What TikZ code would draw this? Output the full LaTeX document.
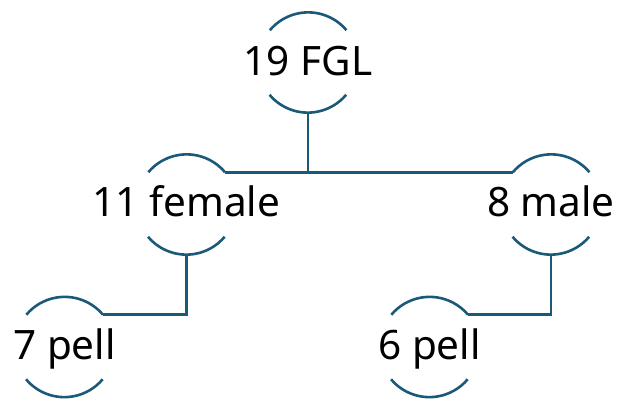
\documentclass[tikz,border=0pt]{standalone}
\usepackage{fontspec}
\setmainfont{Noto Sans}
\definecolor{linkblue}{RGB}{26,89,120}
\begin{document}
\begin{tikzpicture}[x=1pt,y=1pt,
  ring/.style={circle,minimum size=100pt,inner sep=0pt,draw=none},
  lbl/.style={anchor=base,inner sep=0pt,font=\fontsize{40.5}{42}\selectfont,text=black},
  link/.style={draw=linkblue,line width=2.6pt}]
\useasboundingbox (0,0) rectangle (620,400);
% circle centres
\node[ring] (fgl) at (308,337.5) {};
\node[ring] (fem) at (186.5,195.5) {};
\node[ring] (mal) at (551,195.5) {};
\node[ring] (pa) at (64.5,53) {};
\node[ring] (pb) at (429.5,53) {};
% labels
\node[lbl] (tfgl) at (308,325) {19 FGL};
\node[lbl] (tfem) at (186.5,183.5) {11 female};
\node[lbl] (tmal) at (551,183.5) {8 male};
\node[lbl] (tpa) at (64.5,41) {7 pell};
\node[lbl] (tpb) at (429.5,41) {6 pell};
% open rings: only the upper and lower arcs are drawn
\foreach \n in {fgl,fem,mal,pa,pb}{
  \draw[link] (\n.40) arc[start angle=40,end angle=140,radius=50pt];
  \draw[link] (\n.220) arc[start angle=220,end angle=320,radius=50pt];
}
% connectors
\draw[link] (fem.40) -- (mal.140);
\draw[link] (fgl.south) -- (fgl.south |- fem.40);
\draw[link] (fem.south) |- (pa.40);
\draw[link] (mal.south) |- (pb.40);
\end{tikzpicture}
\end{document}
